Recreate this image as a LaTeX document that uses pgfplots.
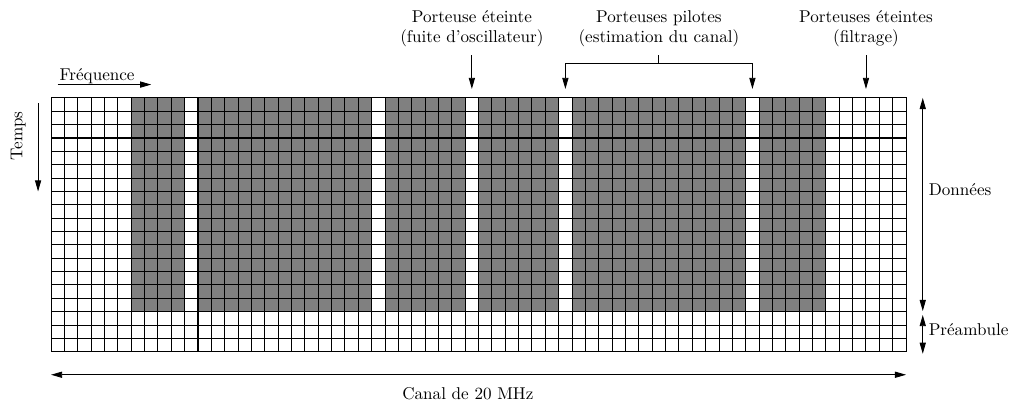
\documentclass[border=0pt]{standalone}
\usepackage{pgfplots}
\pgfplotsset{compat=1.18}
\usetikzlibrary{arrows.meta}

\tikzset{fl/.style={line width=0.5pt, -{Triangle[length=6.5pt,width=3.6pt]}},
         dfl/.style={line width=0.5pt, {Triangle[length=6.5pt,width=3.6pt]}-{Triangle[length=6.5pt,width=3.6pt]}}}

\begin{document}
\begin{tikzpicture}
\begin{axis}[
  scale only axis,
  width=500pt, height=148.44pt,
  xmin=0, xmax=64, ymin=0, ymax=19,
  xtick={0,...,64}, ytick={0,...,19},
  xticklabels={}, yticklabels={},
  tick style={draw=none},
  grid=major,
  major grid style={black, line width=0.6pt},
  axis line style={black, line width=0.6pt},
  axis on top,
  clip=false,
]
  % sous-porteuses de donnees (colonnes grises), symboles 3 a 19
  \addplot[fill=black!50, draw=none] coordinates {(6,3) (10,3) (10,19) (6,19)} --cycle;
  \addplot[fill=black!50, draw=none] coordinates {(11,3) (24,3) (24,19) (11,19)} --cycle;
  \addplot[fill=black!50, draw=none] coordinates {(25,3) (31,3) (31,19) (25,19)} --cycle;
  \addplot[fill=black!50, draw=none] coordinates {(32,3) (38,3) (38,19) (32,19)} --cycle;
  \addplot[fill=black!50, draw=none] coordinates {(39,3) (52,3) (52,19) (39,19)} --cycle;
  \addplot[fill=black!50, draw=none] coordinates {(53,3) (58,3) (58,19) (53,19)} --cycle;

  % axes frequence / temps
  \draw[fl] (axis cs:0.5,20) -- (axis cs:7.5,20);
  \node[anchor=base] at (axis cs:3.45,20.27) {Fréquence};
  \draw[fl] (axis cs:-0.97,18.6) -- (axis cs:-0.97,12);
  \node[rotate=90] at (axis cs:-2.45,16.15) {Temps};

  % annotations du haut
  \node[anchor=south, align=center] at (axis cs:31.5,22.35) {Porteuse éteinte\\(fuite d’oscillateur)};
  \draw[fl] (axis cs:31.5,22.2) -- (axis cs:31.5,19.67);

  \node[anchor=south, align=center] at (axis cs:45.5,22.35) {Porteuses pilotes\\(estimation du canal)};
  \draw[line width=0.5pt] (axis cs:45.5,22.2) -- (axis cs:45.5,21.6);
  \draw[line width=0.5pt] (axis cs:38.5,21.6) -- (axis cs:52.5,21.6);
  \draw[fl] (axis cs:38.5,21.6) -- (axis cs:38.5,19.67);
  \draw[fl] (axis cs:52.5,21.6) -- (axis cs:52.5,19.67);

  \node[anchor=south, align=center] at (axis cs:61,22.35) {Porteuses éteintes\\(filtrage)};
  \draw[fl] (axis cs:61,22.2) -- (axis cs:61,19.67);

  % a droite
  \draw[dfl] (axis cs:65.25,19) -- (axis cs:65.25,3.05);
  \node[anchor=west] at (axis cs:65.25,12.1) {Données};
  \draw[dfl] (axis cs:65.25,2.75) -- (axis cs:65.25,-0.15);
  \node[anchor=west] at (axis cs:65.25,1.65) {Préambule};

  % en bas
  \draw[dfl] (axis cs:0,-1.72) -- (axis cs:64,-1.72);
  \node[anchor=base] at (axis cs:31.2,-3.59) {Canal de 20 MHz};

  \path (axis cs:-3.82,-3.81) rectangle (axis cs:72.23,26.33);
\end{axis}
\end{tikzpicture}
\end{document}
